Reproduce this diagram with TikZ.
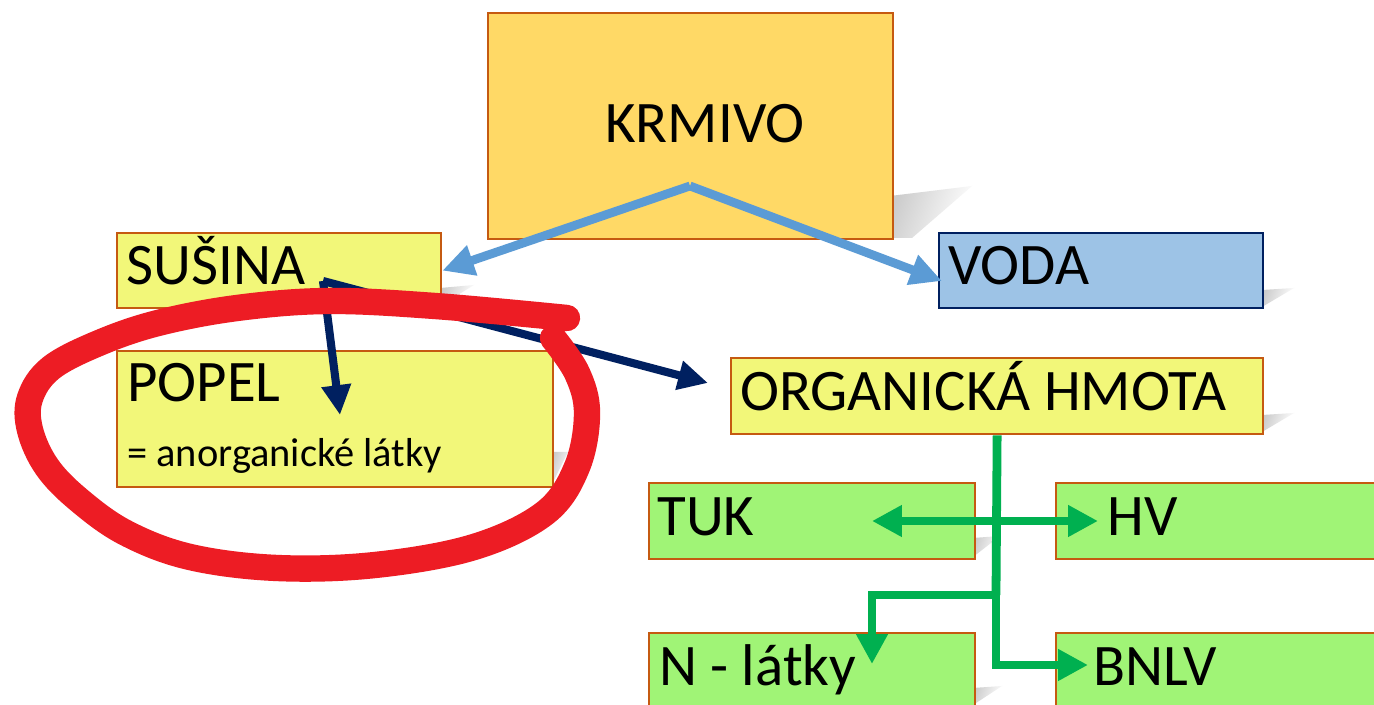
\documentclass[tikz,border=0pt]{standalone}
\usepackage{fontspec}
\setmainfont{Carlito}
\usetikzlibrary{arrows.meta}

\definecolor{krmfill}{HTML}{FFD966}
\definecolor{boxedge}{HTML}{C55A11}
\definecolor{paleyel}{HTML}{F2F779}
\definecolor{vodafill}{HTML}{9DC3E6}
\definecolor{vodaedge}{HTML}{002060}
\definecolor{lightgrn}{HTML}{A0F476}
\definecolor{arrowblue}{HTML}{5B9BD5}
\definecolor{navy}{HTML}{002060}
\definecolor{arrowgrn}{HTML}{00B050}
\definecolor{markred}{HTML}{ED1C24}

\begin{document}
\begin{tikzpicture}[x=0.02cm, y=-0.02cm,
  box/.style n args={3}{draw=boxedge, line width=1.3pt, fill=#3,
    rectangle, inner sep=0pt, anchor=north west,
    minimum width=#1*0.02cm, minimum height=#2*0.02cm},
  big/.style={anchor=base west, inner sep=0pt, font=\fontsize{33.5}{36}\selectfont},
  small/.style={anchor=base west, inner sep=0pt, font=\fontsize{23}{26}\selectfont},
  shadowwedge/.style={left color=black!20, right color=white, shading angle=70},
  bluearrow/.style={draw=arrowblue, line width=5pt,
    -{Triangle[length=18pt, width=17pt]}},
  navyarrow/.style={draw=navy, line width=4.6pt,
    -{Triangle[length=17pt, width=16pt]}},
  grnline/.style={draw=arrowgrn, line width=5pt},
  grnhead/.style={-{Triangle[length=17pt, width=17pt]}},
  redloop/.style={draw=markred, line width=15pt, line cap=round, line join=round}
]
\useasboundingbox (0,0) rectangle (1374,705);
\clip (0,0) rectangle (1374,705);
\fill[white] (0,0) rectangle (1374,705);

% soft drop shadows at the lower right of the boxes
\shade[shadowwedge] (890,238) -- (890,196) -- (972,186) -- (912,238) -- cycle;
\shade[shadowwedge] (440,288) -- (474,285) -- (440,306) -- cycle;
\shade[shadowwedge] (1262,290) -- (1294,288) -- (1262,307) -- cycle;
\shade[shadowwedge] (1262,415) -- (1294,413) -- (1262,432) -- cycle;
\shade[shadowwedge] (552,452) -- (568,452) -- (552,484) -- cycle;
\shade[shadowwedge] (973,538) -- (1000,536) -- (973,557) -- cycle;
\shade[shadowwedge] (973,688) -- (1002,686) -- (973,705) -- cycle;

% boxes
\node[box={405}{226}{krmfill}] (krmivo) at (487,12) {};
\node[box={324}{75}{paleyel}] (susina) at (116,232) {};
\node[box={324}{75}{vodafill}, draw=vodaedge] (voda) at (938,232) {};
\node[box={436}{136}{paleyel}] (popel) at (116,350) {};
\node[box={532}{76}{paleyel}] (org) at (730,357) {};
\node[box={326}{76}{lightgrn}] (tuk) at (648,482) {};
\node[box={340}{76}{lightgrn}] (hv) at (1055,482) {};
\node[box={326}{90}{lightgrn}] (nlat) at (648,632) {};
\node[box={340}{90}{lightgrn}] (bnlv) at (1055,632) {};

% labels
\node[big] (krmivo-t) at (605,143) {KRMIVO};
\node[big] (susina-t) at (126,285) {SUŠINA};
\node[big] (voda-t) at (948,285) {VODA};
\node[big] (popel-t) at (127,402) {POPEL};
\node[small] (popel-s) at (127,467) {= anorganické látky};
\node[big] (org-t) at (740,411) {ORGANICKÁ HMOTA};
\node[big] (tuk-t) at (657,536) {TUK};
\node[big] (hv-t) at (1107,536) {HV};
\node[big] (nlat-t) at (659,686) {N - látky};
\node[big] (bnlv-t) at (1093,686) {BNLV};

% connector end points
\coordinate (kpeak) at (690,186);
\coordinate (vodatip) at (942,281);
\coordinate (sroot) at (323,281);
\coordinate (popeltip) at (340,415);
\coordinate (orgtip) at (708,383);
\coordinate (tuktip) at (872,521);
\coordinate (hvtip) at (1098,521);
\coordinate (gfork) at (996,595);
\coordinate (nlattip) at (872,664);
\coordinate (bnlvtip) at (1088,665);

% KRMIVO splits into dry matter and water
\draw[bluearrow] (kpeak) -- (susina.east);
\draw[bluearrow] (kpeak) -- (vodatip);

% dry matter splits into ash and organic matter
\draw[navyarrow] (sroot) -- (popeltip);
\draw[navyarrow] (sroot) -- (orgtip);

% organic matter fractions
\draw[grnline] (org.south) -- (gfork);
\draw[grnline, {Triangle[length=17pt, width=17pt]}-{Triangle[length=17pt, width=17pt]}] (tuktip) -- (hvtip);
\draw[grnline, grnhead] (gfork) -| (nlattip);
\draw[grnline, grnhead] (gfork) |- (bnlvtip);

% hand-drawn red ring round the ash box
\draw[redloop] plot[smooth, tension=0.6] coordinates {
  (567,318) (435,306) (328,301) (237,308) (158,323) (99,343) (51,368)
  (30,398) (30,430) (47,467) (79,500) (126,533) (190,557) (277,568)
  (375,565) (474,547) (545,513) (577,467) (587,413) (577,373) (553,338)};
\end{tikzpicture}
\end{document}
